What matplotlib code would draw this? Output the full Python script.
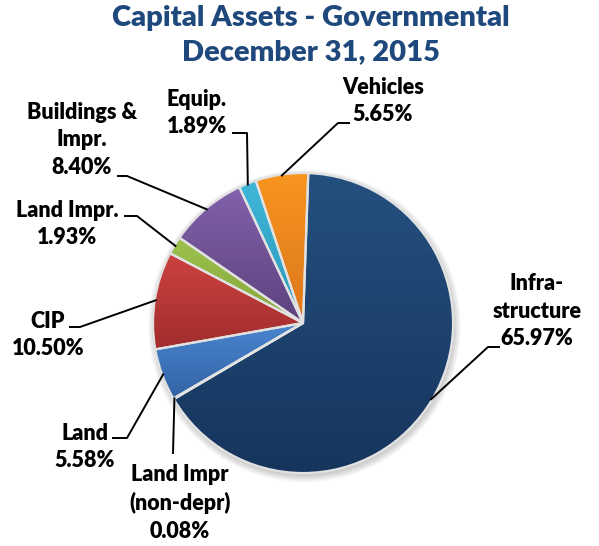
import numpy as np
import matplotlib.pyplot as plt
from matplotlib.patches import Wedge
from matplotlib.colors import LinearSegmentedColormap

# (1). Data of the chart
categorias = ['Infra-\nstructure', 'Land Impr\n(non-depr)', 'Land', 'CIP',
              'Land Impr.', 'Buildings &\nImpr.', 'Equip.', 'Vehicles']
percentuais = [65.97, 0.08, 5.58, 10.50, 1.93, 8.40, 1.89, 5.65]
cores_topo = ['#24507F', '#B34A3C', '#4A86D0', '#CD4341', '#9DC24C', '#8262AB', '#3FB6D9', '#F8951F']
cores_base = ['#16355D', '#8E3A30', '#3363A5', '#A02D2C', '#84A63A', '#5D427E', '#2B98B8', '#DC771D']
explode = [0.075, 0, 0, 0, 0, 0, 0, 0]

# (2). Layout of labels (pixel coords, y from top)
pos_rotulo = [(537, 311), (180, 503), (85, 447), (48, 335), (67, 224), (82, 140), (197, 113), (383, 101)]
cotovelo = [(488, 347), (173, 453), (127, 438), (80, 327), (137, 216), (127, 176), (247, 133), (338, 123)]
ponta = [(499, 347), (173, 453), (113, 438), (70, 327), (125, 216), (118, 176), (233, 133), (349, 123)]

W, H = 599, 546
CX, CY, R = 303, H - 323, 150

fig = plt.figure(figsize=(W / 100, H / 100), dpi=100)
ax = fig.add_axes([0, 0, 1, 1])

wedges, _ = ax.pie(percentuais, explode=explode, startangle=88, counterclock=False,
                   center=(CX, CY), radius=R,
                   wedgeprops=dict(edgecolor='#E2E2E2', linewidth=1.6))

# (3). Soft shadow + vertical gradient inside every slice
grad = np.linspace(0, 1, 256).reshape(-1, 1)
for w, c_top, c_base in zip(wedges, cores_topo, cores_base):
    cx, cy = w.center
    for k in range(8):
        ax.add_patch(Wedge((cx + 1.5, cy - 3), w.r + k * 0.9, w.theta1, w.theta2,
                           color='black', alpha=0.025, lw=0, zorder=0.5))
    th = np.radians(np.linspace(w.theta1, w.theta2, 200))
    xs = np.append(cx + w.r * np.cos(th), cx)
    ys = np.append(cy + w.r * np.sin(th), cy)
    cmap = LinearSegmentedColormap.from_list('g', [c_base, c_top])
    ax.imshow(grad, extent=(xs.min(), xs.max(), ys.min(), ys.max()), origin='lower',
              cmap=cmap, aspect='auto', clip_path=w, zorder=1.5, interpolation='bilinear')
    w.set_facecolor('none')
    w.set_zorder(2)

# (4). Labels and leader lines
for w, nome, p, xy, cot, pt in zip(wedges, categorias, percentuais, pos_rotulo, cotovelo, ponta):
    ang = np.radians((w.theta1 + w.theta2) / 2)
    ax_x = w.center[0] + (w.r - 1) * np.cos(ang)
    ax_y = w.center[1] + (w.r - 1) * np.sin(ang)
    ax.plot([ax_x, cot[0], pt[0]], [ax_y, H - cot[1], H - pt[1]], color='black', lw=1.4, zorder=3)
    ax.text(xy[0], H - xy[1], nome + '\n' + f'{p:.2f}%', ha='center', va='center',
            fontsize=15.5, fontweight='heavy', family='Lato', linespacing=1.38)

ax.text(311, H - 18, 'Capital Assets - Governmental', ha='center', va='center',
        fontsize=21, fontweight='heavy', family='Lato', color='#1F497D')
ax.text(311, H - 52, 'December 31, 2015', ha='center', va='center',
        fontsize=21, fontweight='heavy', family='Lato', color='#1F497D')

ax.set_xlim(0, W)
ax.set_ylim(0, H)
ax.set_aspect('equal')
ax.axis('off')

fig.savefig('out.png', dpi=100)
